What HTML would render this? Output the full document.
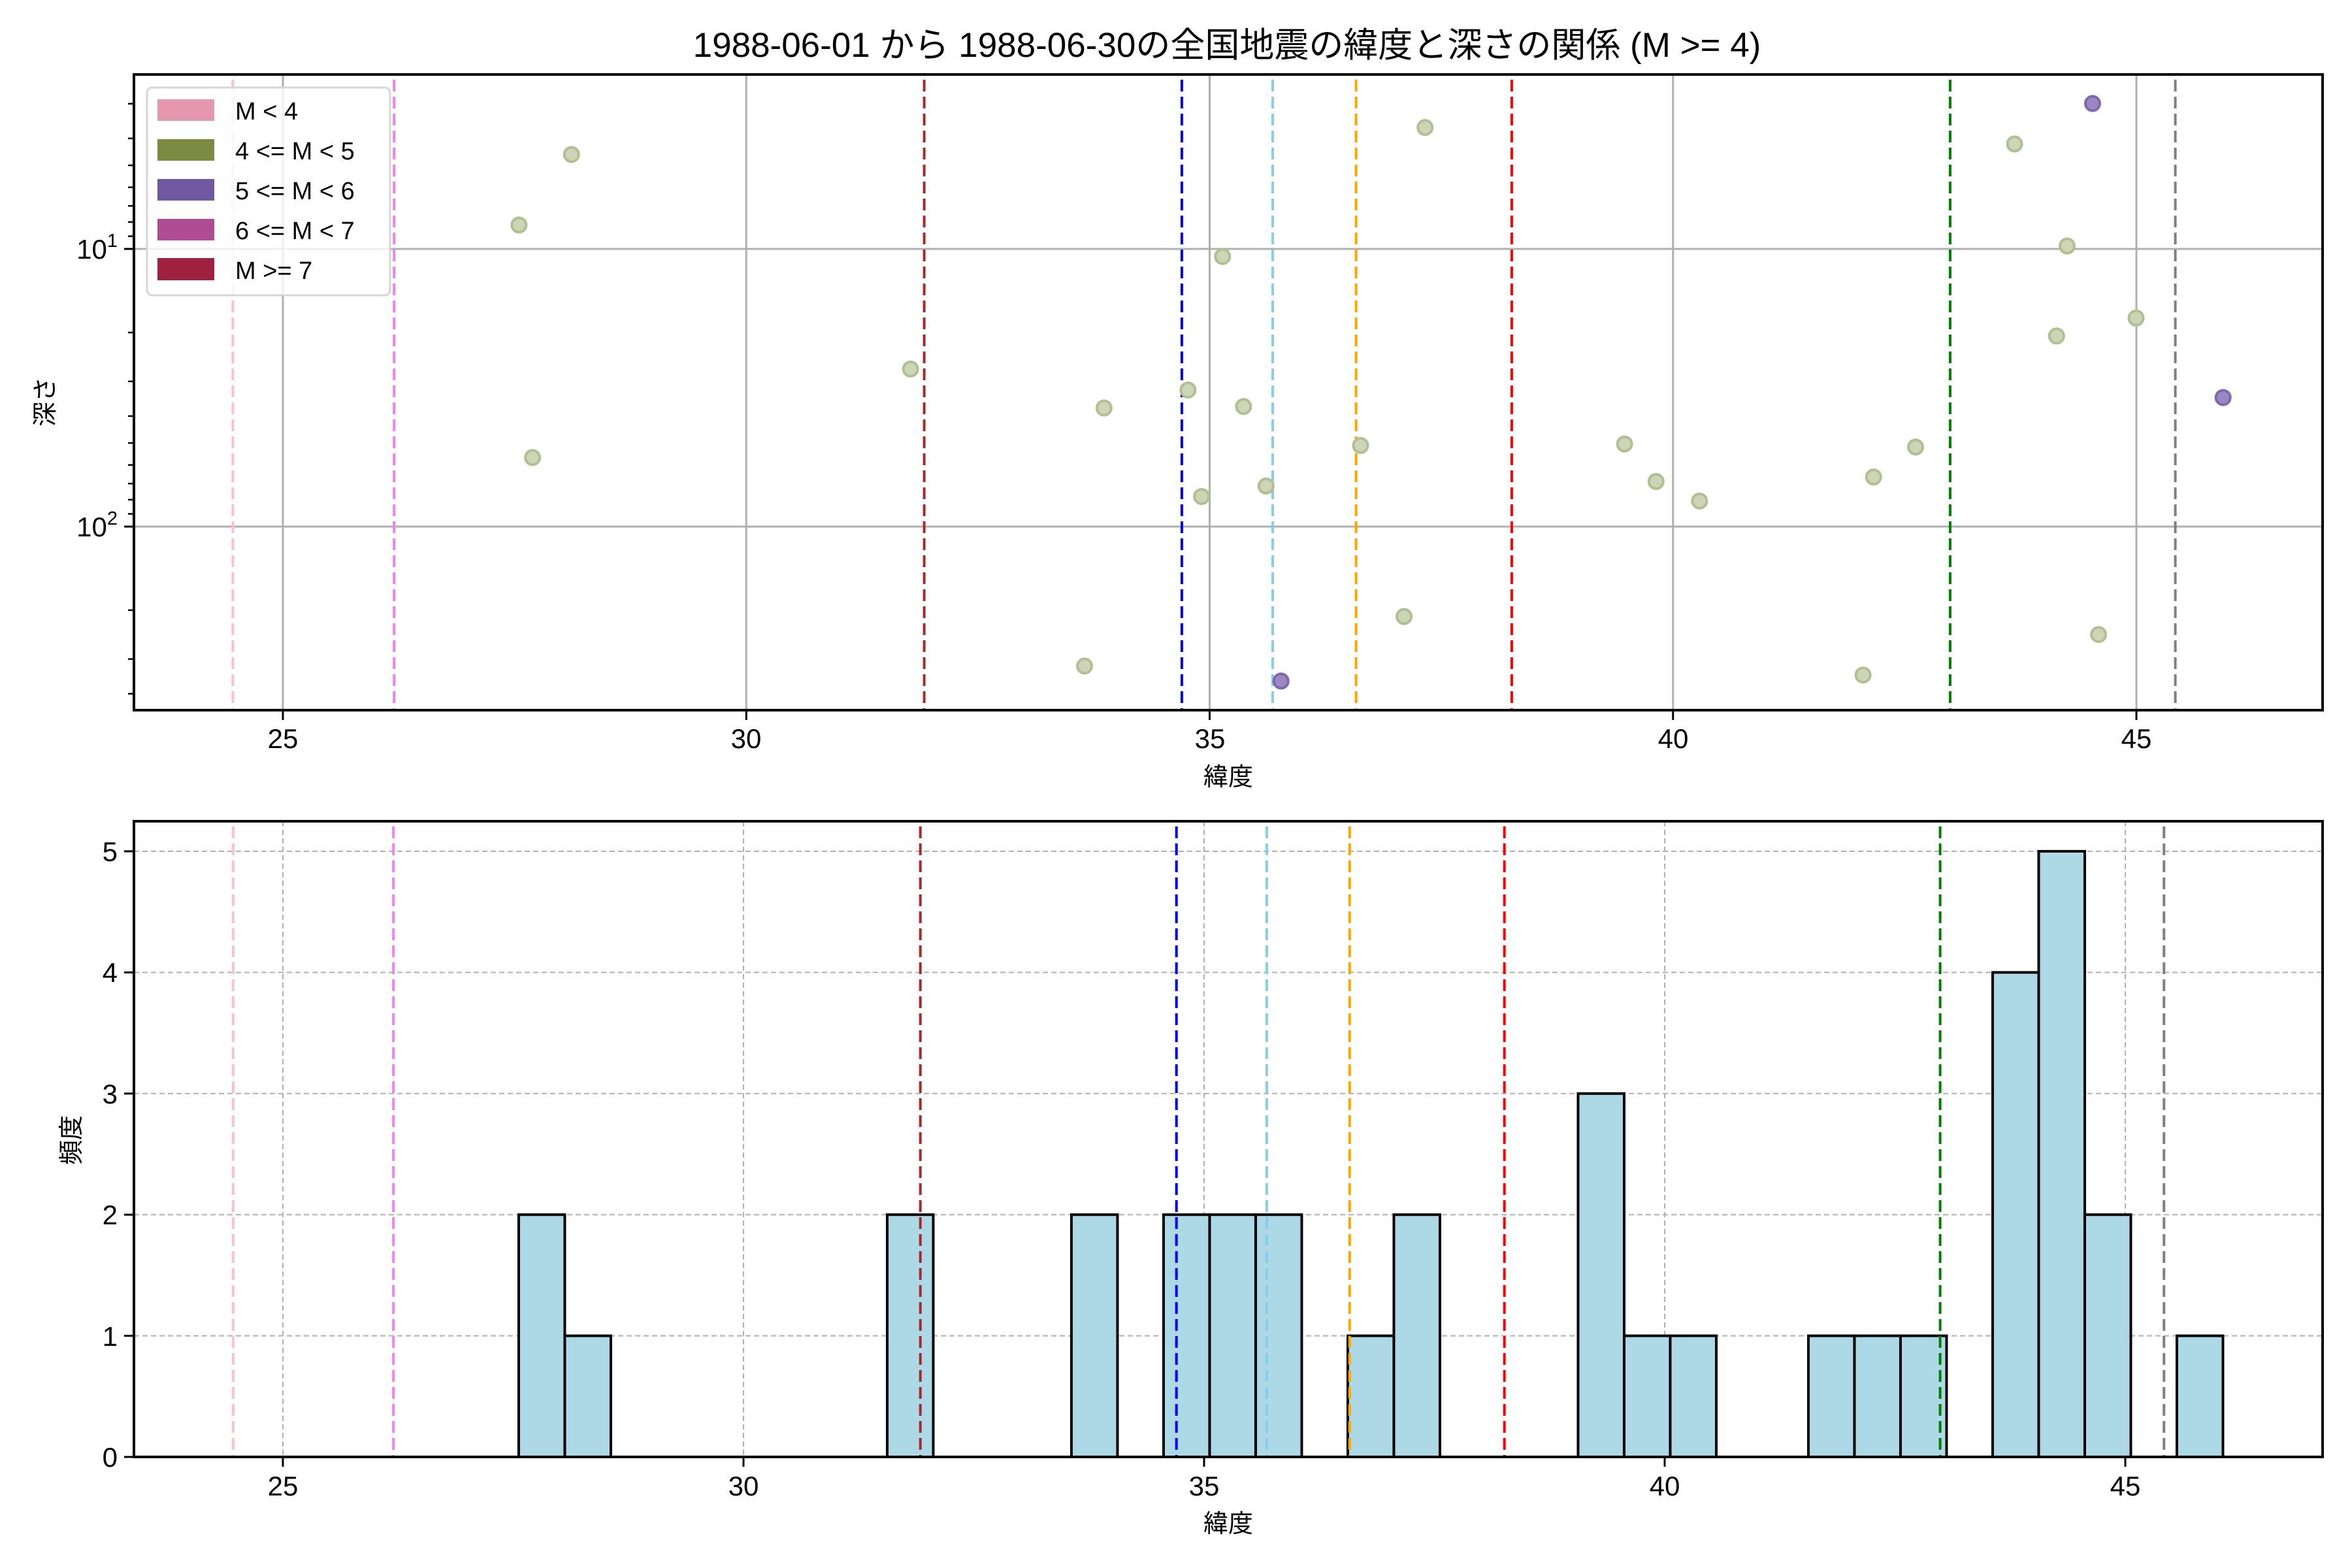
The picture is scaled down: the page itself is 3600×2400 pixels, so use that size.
<!DOCTYPE html>
<html><head><meta charset="utf-8"><style>
html,body{margin:0;padding:0;background:#fff;}
svg{display:block;}
text{font-family:"Liberation Sans","Noto Sans CJK JP",sans-serif;fill:#000;}
</style></head><body>
<svg id="s" width="3600" height="2400" viewBox="0 0 3600 2400" xmlns="http://www.w3.org/2000/svg">
<rect width="3600" height="2400" fill="#fff"/>
<g id="gtop"></g>
<g id="gbot"></g>
<text x="1878" y="87" font-size="53" text-anchor="middle">1988-06-01 から 1988-06-30の全国地震の緯度と深さの関係 (M &gt;= 4)</text>
<g font-size="42" text-anchor="middle">
<text x="433" y="1145">25</text><text x="1142" y="1145">30</text><text x="1852" y="1145">35</text><text x="2561" y="1145">40</text><text x="3270" y="1145">45</text>
<text x="433" y="2289">25</text><text x="1138" y="2289">30</text><text x="1843" y="2289">35</text><text x="2548" y="2289">40</text><text x="3253" y="2289">45</text>
</g>
<text x="180" y="396" font-size="42" text-anchor="end">10<tspan dy="-18" font-size="29">1</tspan></text>
<text x="180" y="821" font-size="42" text-anchor="end">10<tspan dy="-18" font-size="29">2</tspan></text>
<g font-size="42" text-anchor="end">
<text x="180" y="2245">0</text><text x="180" y="2060">1</text><text x="180" y="1874">2</text><text x="180" y="1689">3</text><text x="180" y="1503">4</text><text x="180" y="1318">5</text>
</g>
<text x="1880" y="1202" font-size="38" text-anchor="middle">緯度</text>
<text x="1880" y="2345" font-size="38" text-anchor="middle">緯度</text>
<text transform="translate(82,615) rotate(-90)" font-size="38" text-anchor="middle">深さ</text>
<text transform="translate(122,1745) rotate(-90)" font-size="38" text-anchor="middle">頻度</text>
<g id="leg">
<rect x="225" y="134" width="372" height="318" rx="8" fill="#fff" fill-opacity="0.8" stroke="#d6d6d6" stroke-width="3"/>
<rect x="241" y="152" width="87" height="33" fill="#e597b0"/>
<rect x="241" y="213" width="87" height="33" fill="#7b8b41"/>
<rect x="241" y="274" width="87" height="33" fill="#6f58a1"/>
<rect x="241" y="335" width="87" height="33" fill="#b04c93"/>
<rect x="241" y="395" width="87" height="34" fill="#a02040"/>
<g font-size="38">
<text x="360" y="183">M &lt; 4</text>
<text x="360" y="244">4 &lt;= M &lt; 5</text>
<text x="360" y="305">5 &lt;= M &lt; 6</text>
<text x="360" y="366">6 &lt;= M &lt; 7</text>
<text x="360" y="427">M &gt;= 7</text>
</g>
</g>
</svg>
<script>
(function(){
const NS="http://www.w3.org/2000/svg";
function el(p,t,a){const e=document.createElementNS(NS,t);for(const k in a)e.setAttribute(k,a[k]);p.appendChild(e);return e;}
const gT=document.getElementById('gtop'), gB=document.getElementById('gbot');
const L=205,R=3555,T1=114,B1=1087,T2=1257,B2=2230;
const X1=l=>433+(l-25)*141.85, X2=l=>433+(l-25)*141;
[25,30,35,40,45].forEach(v=>el(gT,'line',{x1:X1(v),x2:X1(v),y1:T1,y2:B1,stroke:'#b0b0b0','stroke-width':3}));
[381,806].forEach(y=>el(gT,'line',{x1:L,x2:R,y1:y,y2:y,stroke:'#b0b0b0','stroke-width':3}));
[25,30,35,40,45].forEach(v=>el(gB,'line',{x1:X2(v),x2:X2(v),y1:T2,y2:B2,stroke:'#b0b0b0','stroke-width':2,'stroke-dasharray':'8 5'}));
for(let k=0;k<=5;k++){const y=B2-185.4*k;el(gB,'line',{x1:L,x2:R,y1:y,y2:y,stroke:'#b0b0b0','stroke-width':2,'stroke-dasharray':'8 5'});}
const vl=[[24.46,'pink'],[26.2,'violet'],[31.92,'brown'],[34.70,'blue'],[35.68,'skyblue'],[36.58,'orange'],[38.26,'red'],[42.99,'green'],[45.42,'gray']];
const bars=[[27.56,2],[28.06,1],[31.56,2],[33.56,2],[34.56,2],[35.06,2],[35.56,2],[36.56,1],[37.06,2],[39.06,3],[39.56,1],[40.06,1],[41.56,1],[42.06,1],[42.56,1],[43.56,4],[44.06,5],[44.56,2],[45.56,1]];
bars.forEach(([e,c])=>{const x=X2(e),w=X2(e+0.5)-x,h=185.4*c;el(gB,'rect',{x:x,y:B2-h,width:w,height:h,fill:'#add8e6',stroke:'#000','stroke-width':4});});
vl.forEach(([v,c])=>{el(gT,'line',{x1:X1(v),x2:X1(v),y1:T1+8,y2:B1,stroke:c,'stroke-width':4,'stroke-dasharray':'18 8'});el(gB,'line',{x1:X2(v),x2:X2(v),y1:T2+8,y2:B2,stroke:c,'stroke-width':4,'stroke-dasharray':'18 8'});});
const s=2.296;
const pts=[[381,103],[346,150],[355,305],[607,246],[736,272],[792,260],[801,331],[815,171],[829,271],[844,324],[907,297],[936,411],[950,85],[723,444],[1083,296],[1104,321],[1133,334],[1242,450],[1249,318],[1277,298],[1343,96],[1378,164],[1371,224],[1424,212],[1399,423]];
pts.forEach(([x,y])=>el(gT,'circle',{cx:x*s,cy:y*s,r:11,fill:'#cdd5b7',stroke:'#b1bf92','stroke-width':4}));
[[854,454],[1395,69],[1482,265]].forEach(([x,y])=>el(gT,'circle',{cx:x*s,cy:y*s,r:11,fill:'#9a87c4',stroke:'#8068b0','stroke-width':4}));
[25,30,35,40,45].forEach(v=>{el(gT,'line',{x1:X1(v),x2:X1(v),y1:B1,y2:B1+15,stroke:'#000','stroke-width':3});el(gB,'line',{x1:X2(v),x2:X2(v),y1:B2,y2:B2+15,stroke:'#000','stroke-width':3});});
[381,806].forEach(y=>el(gT,'line',{x1:L-15,x2:L,y1:y,y2:y,stroke:'#000','stroke-width':3}));
const minors=[3,4,5,6,7,8,9,20,30,40,50,60,70,80,90,200,300,400];
minors.forEach(v=>{const y=381+(Math.log10(v)-1)*425;el(gT,'line',{x1:L-9,x2:L,y1:y,y2:y,stroke:'#000','stroke-width':2.5});});
for(let k=0;k<=5;k++){const y=B2-185.4*k;el(gB,'line',{x1:L-15,x2:L,y1:y,y2:y,stroke:'#000','stroke-width':3});}
el(gT,'rect',{x:L,y:T1,width:R-L,height:B1-T1,fill:'none',stroke:'#000','stroke-width':4});
el(gB,'rect',{x:L,y:T2,width:R-L,height:B2-T2,fill:'none',stroke:'#000','stroke-width':4});
})();
</script>
</body></html>
